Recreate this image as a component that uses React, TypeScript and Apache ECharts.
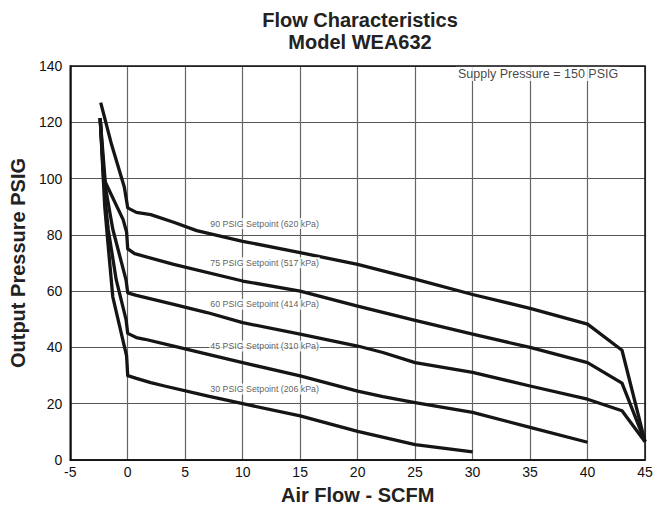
import React, { useEffect, useRef } from "react";
import * as echarts from "echarts";

const xTicks = { min: -5, max: 45, interval: 5 };
const yTicks = { min: 0, max: 140, interval: 20 };

const sp90: [number, number][] = [
  [-2.35, 127], [-1.4, 112], [-0.3, 97], [0, 89.6], [0.75, 88], [2, 87.2], [4, 84.5],
  [6, 81.5], [10, 77.7], [15, 73.7], [20, 69.5], [25, 64.3], [30, 58.8], [35, 53.9],
  [40, 48.3], [43, 39], [45, 6.5],
];
const sp75: [number, number][] = [
  [-2.4, 121.5], [-2.1, 100], [-0.4, 85.4], [-0.1, 81], [0, 75], [0.6, 73.3], [4, 69.5],
  [10, 63.6], [15, 60], [20, 54.7], [25, 49.6], [30, 44.7], [35, 40], [40, 34.6],
  [43, 27.3], [45, 6.5],
];
const sp60: [number, number][] = [
  [-2.4, 121.5], [-1.9, 96], [-1.3, 82], [-0.15, 64], [0, 59.4], [0.75, 58.5], [4, 55.3],
  [6.9, 52.4], [10, 48.8], [15, 44.7], [20, 40.5], [22.2, 38.2], [25, 34.6], [30, 31.1],
  [35, 26.3], [40, 21.6], [43, 17.5], [45, 6.5],
];
const sp45: [number, number][] = [
  [-2.4, 121.5], [-1.9, 90], [-1.7, 82], [-1, 64], [-0.15, 50], [0, 45], [0.75, 43.5],
  [1.5, 42.9], [4, 40.5], [6.9, 37.6], [10, 34.6], [15, 29.9], [20, 24.5], [22.2, 22.5],
  [25, 20.4], [30, 16.9], [35, 11.6], [40, 6.3],
];
const sp30: [number, number][] = [
  [-2.4, 121.5], [-2, 90], [-1.7, 76], [-1.3, 58], [-0.3, 40.5], [-0.1, 37], [0, 30],
  [0.75, 29], [2, 27.5], [3.2, 26.3], [6.9, 22.8], [10, 20], [15, 15.7], [20, 10.2],
  [25, 5.5], [30, 2.9],
];

const curveNames = ["90 PSIG", "75 PSIG", "60 PSIG", "45 PSIG", "30 PSIG"];
const curveData = [sp90, sp75, sp60, sp45, sp30];

const setpointLabels = [
  "90 PSIG Setpoint (620 kPa)",
  "75 PSIG Setpoint (517 kPa)",
  "60 PSIG Setpoint (414 kPa)",
  "45 PSIG Setpoint (310 kPa)",
  "30 PSIG Setpoint (206 kPa)",
];
const setpointLabelX = [7.1, 7.1, 7.1, 7.1, 7.1];
const setpointLabelY = [84, 70.1, 55.3, 40.5, 25.2];

const supplyText = "Supply Pressure = 150 PSIG";
const supplyPos: [number, number] = [35.7, 137.3];

const titleText = "Flow Characteristics\nModel WEA632";
const xName = "Air Flow - SCFM";
const yName = "Output Pressure PSIG";

const FONT = "'Liberation Sans', Arial, Helvetica, sans-serif";

export default function App() {
  const ref = useRef<HTMLDivElement>(null);
  useEffect(() => {
    document.body.style.margin = "0";
    if (!ref.current) return;
    const chart = echarts.init(ref.current, null, { renderer: "svg" });
    const lineSeries = curveData.map((d, i) => ({
      type: "line",
      name: curveNames[i],
      data: d,
      symbol: "none",
      lineStyle: { color: "#151515", width: 3.3, join: "round" },
      z: 3,
    }));
    const labelData: any[] = setpointLabels.map((t, i) => ({
      name: t,
      value: [setpointLabelX[i], setpointLabelY[i]],
      label: {
        show: true,
        position: "inside",
        align: "left",
        verticalAlign: "middle",
        formatter: t,
        fontSize: 8.8,
        color: "#333",
        fontFamily: FONT,
        backgroundColor: "#fff",
        padding: [1, 1],
      },
    }));
    labelData.push({
      name: supplyText,
      value: supplyPos,
      label: {
        show: true,
        position: "inside",
        align: "center",
        verticalAlign: "middle",
        formatter: supplyText,
        fontSize: 12.5,
        color: "#111",
        fontFamily: FONT,
        backgroundColor: "#fff",
        padding: [1, 2],
      },
    });
    chart.setOption({
      animation: false,
      backgroundColor: "#fff",
      title: {
        text: titleText,
        left: 355,
        top: 4,
        textAlign: "center",
        textStyle: {
          fontFamily: FONT,
          fontSize: 20,
          fontWeight: "bold",
          color: "#222",
          lineHeight: 22,
        },
      },
      grid: { left: 66, right: 13, top: 66, bottom: 49, show: false },
      xAxis: {
        type: "value",
        min: xTicks.min,
        max: xTicks.max,
        interval: xTicks.interval,
        name: xName,
        nameLocation: "middle",
        nameGap: 25,
        nameTextStyle: { fontFamily: FONT, fontSize: 20, fontWeight: "bold", color: "#222" },
        axisLine: { show: true, onZero: false, lineStyle: { color: "#111", width: 1.5 } },
        axisTick: { show: false },
        axisLabel: { fontFamily: FONT, fontSize: 14, color: "#111", margin: 5 },
        splitLine: { show: true, lineStyle: { color: "#666", width: 1.2 } },
      },
      yAxis: {
        type: "value",
        min: yTicks.min,
        max: yTicks.max,
        interval: yTicks.interval,
        name: yName,
        nameLocation: "middle",
        nameGap: 36,
        nameRotate: 90,
        nameTextStyle: { fontFamily: FONT, fontSize: 20, fontWeight: "bold", color: "#222" },
        axisLine: { show: true, onZero: false, lineStyle: { color: "#111", width: 1.5 } },
        axisTick: { show: false },
        axisLabel: { fontFamily: FONT, fontSize: 14, color: "#111", margin: 8 },
        splitLine: { show: true, lineStyle: { color: "#555", width: 1.1 } },
      },
      series: [
        ...lineSeries,
        {
          type: "scatter",
          name: "labels",
          data: labelData,
          symbolSize: 1,
          itemStyle: { color: "rgba(0,0,0,0)" },
          silent: true,
          z: 5,
        },
      ],
    });
    const tl = chart.convertToPixel({ gridIndex: 0 }, [xTicks.min, yTicks.max]) as number[];
    const br = chart.convertToPixel({ gridIndex: 0 }, [xTicks.max, yTicks.min]) as number[];
    chart.setOption({
      graphic: [
        {
          type: "rect",
          shape: { x: tl[0], y: tl[1], width: br[0] - tl[0], height: br[1] - tl[1] },
          style: { fill: "none", stroke: "#111", lineWidth: 1.5 },
          silent: true,
          z: 10,
        },
      ],
    });
    return () => chart.dispose();
  }, []);
  return <div ref={ref} style={{ width: 658, height: 510 }} />;
}
